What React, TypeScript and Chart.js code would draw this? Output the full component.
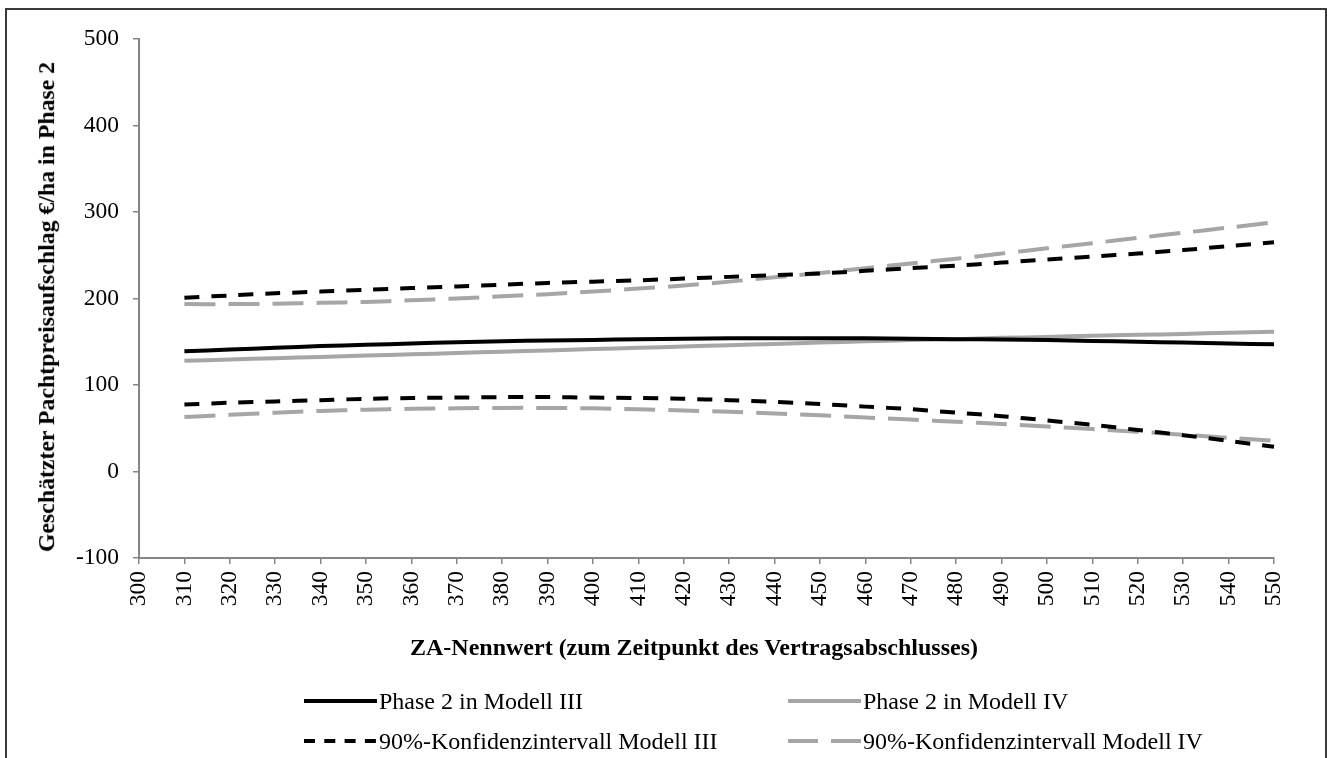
import React, { useEffect, useRef } from "react";
import { Chart, registerables } from "chart.js";

Chart.register(...registerables);

const xLabels = ["300","310","320","330","340","350","360","370","380","390","400","410","420","430","440","450","460","470","480","490","500","510","520","530","540","550"];

const phase2ModellIII = [null,139,141,143,145,146.5,148,149.5,150.5,151.5,152,153,153.5,154,154,154,154,153.5,153,152.5,152,151,150,149,148,147];
const phase2ModellIV = [null,128,129.5,131,132.5,134,135.5,137,138.5,140,141.5,143,144.5,146,147.5,149,150.5,152,153,154.5,155.5,157,158,159,160.5,161.5];
const ciIIIUpper = [null,201,203.5,206,208,210,212,214,216,218,219.5,221,223,225,227,229,232,235,238,241.5,245,248.5,252,256,260.5,265];
const ciIIILower = [null,77.5,79.5,81,82.5,84,85,85.5,86,86,85.5,85,84,82.5,80.5,78,75,72,68,64,59,54,48,42,35.5,28.5];
const ciIVUpper = [null,193.5,193.5,194,195,196,198,200,202.5,205,208,211.5,215,219.5,224.5,229.5,235,240.5,246,252,258,264,270,276,282,288];
const ciIVLower = [null,63,65.5,68,70,71.5,72.5,73,73.5,73.5,73,72,70.5,69,67,65,62.5,60,57.5,55,52,49,46,42.5,39,35.5];

const yTitle = "Geschätzter Pachtpreisaufschlag €/ha in Phase 2";
const xTitle = "ZA-Nennwert (zum Zeitpunkt des Vertragsabschlusses)";
const legendLabels = ["Phase 2 in Modell III", "Phase 2 in Modell IV", "90%-Konfidenzintervall Modell III", "90%-Konfidenzintervall Modell IV"];

const BLACK = "#000000";
const GRAY = "#a6a6a6";
const AXIS = "#868686";
const FONT = "'Liberation Serif', 'Times New Roman', serif";

export default function App() {
  const ref = useRef<HTMLCanvasElement | null>(null);

  useEffect(() => {
    if (!ref.current) return;
    const common = { pointRadius: 0, borderWidth: 4, fill: false, tension: 0.3, spanGaps: true };
    const chart = new Chart(ref.current, {
      type: "line",
      data: {
        labels: xLabels,
        datasets: [
          { ...common, label: legendLabels[0], data: phase2ModellIII, borderColor: BLACK },
          { ...common, label: legendLabels[1], data: phase2ModellIV, borderColor: GRAY },
          { ...common, label: legendLabels[2], data: ciIIIUpper, borderColor: BLACK, borderDash: [15, 12] },
          { ...common, label: legendLabels[2] + " ", data: ciIIILower, borderColor: BLACK, borderDash: [15, 12] },
          { ...common, label: legendLabels[3], data: ciIVUpper, borderColor: GRAY, borderDash: [31, 13] },
          { ...common, label: legendLabels[3] + " ", data: ciIVLower, borderColor: GRAY, borderDash: [31, 13] },
        ],
      },
      options: {
        responsive: false,
        animation: false,
        layout: { padding: { top: 39, right: 53, bottom: 90, left: 0 } },
        plugins: { legend: { display: false }, tooltip: { enabled: false }, title: { display: false } },
        scales: {
          x: {
            type: "category",
            offset: false,
            grid: { display: true, drawOnChartArea: false, drawTicks: true, tickLength: 6, color: AXIS, lineWidth: 1.5 },
            border: { display: true, color: AXIS, width: 2 },
            ticks: {
              autoSkip: false,
              maxRotation: 90,
              minRotation: 90,
              padding: 7,
              color: "#000",
              font: { family: FONT, size: 23.5 },
            },
            afterFit: (s: any) => { s.height = 110; },
          },
          y: {
            min: -100,
            max: 500,
            grid: { display: true, drawOnChartArea: false, drawTicks: true, tickLength: 6, color: AXIS, lineWidth: 1.5 },
            border: { display: true, color: AXIS, width: 2 },
            ticks: {
              stepSize: 100,
              padding: 14,
              color: "#000",
              font: { family: FONT, size: 23.5 },
            },
            afterFit: (s: any) => { s.width = 139; },
          },
        },
      },
    });
    return () => chart.destroy();
  }, []);

  const textStyle: React.CSSProperties = {
    position: "absolute",
    fontFamily: FONT,
    fontSize: 24,
    color: "#000",
    whiteSpace: "nowrap",
    lineHeight: 1,
  };

  const legendItem = (x: number, y: number, label: string, color: string, dash: string | null) => (
    <React.Fragment key={label}>
      <svg style={{ position: "absolute", left: x, top: y - 5, overflow: "visible" }} width={74} height={10}>
        <line x1={0} y1={5} x2={73} y2={5} stroke={color} strokeWidth={4} strokeDasharray={dash || undefined} />
      </svg>
      <div style={{ ...textStyle, left: x + 75, top: y, transform: "translateY(-50%)" }}>{label}</div>
    </React.Fragment>
  );

  return (
    <div style={{ position: "absolute", left: 0, top: 0, width: 1327, height: 758, overflow: "hidden", background: "#fff" }}>
      <div style={{ position: "absolute", left: 5, top: 8, width: 1318, height: 800, border: "2px solid #3a3a3a" }} />
      <canvas ref={ref} width={1327} height={758} style={{ position: "absolute", left: 0, top: 0 }} />
      <div style={{ ...textStyle, fontWeight: "bold", fontSize: 23.8, left: 47, top: 307, transform: "translate(-50%, -50%) rotate(-90deg)" }}>{yTitle}</div>
      <div style={{ ...textStyle, fontWeight: "bold", fontSize: 24, left: 694, top: 647, transform: "translate(-50%, -50%)" }}>{xTitle}</div>
      {legendItem(304, 701, legendLabels[0], BLACK, null)}
      {legendItem(788, 701, legendLabels[1], GRAY, null)}
      {legendItem(304, 741, legendLabels[2], BLACK, "11 9.3")}
      {legendItem(788, 741, legendLabels[3], GRAY, "30 13")}
    </div>
  );
}
